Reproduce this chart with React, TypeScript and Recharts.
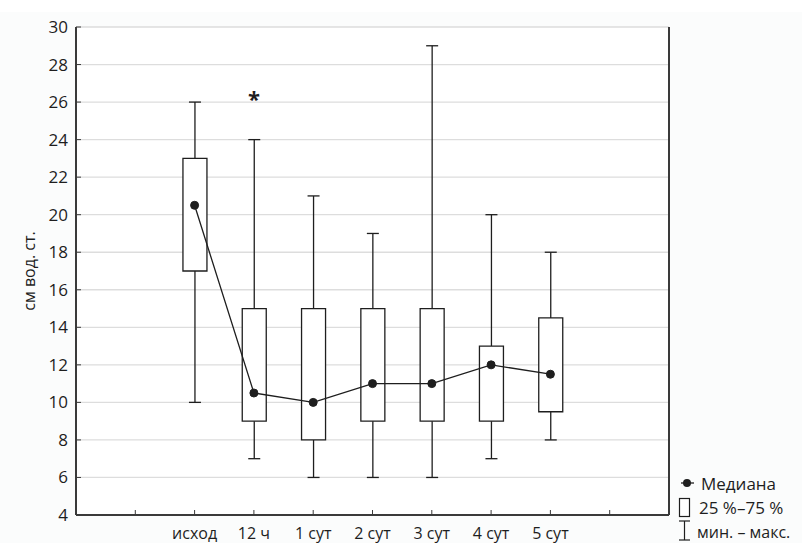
import React from 'react';
import {
  ComposedChart, Bar, Line, XAxis, YAxis, CartesianGrid
} from 'recharts';

// groups along the x axis (an empty slot is left at each end)
const categories = ['исход', '12 ч', '1 сут', '2 сут', '3 сут', '4 сут', '5 сут'];
const mins = [10, 7, 6, 6, 6, 7, 8];
const q1s = [17, 9, 8, 9, 9, 9, 9.5];
const medians = [20.5, 10.5, 10, 11, 11, 12, 11.5];
const q3s = [23, 15, 15, 15, 15, 13, 14.5];
const maxs = [26, 24, 21, 19, 29, 20, 18];
// significance mark (asterisk) above a group
const marks = [null, 26.4, null, null, null, null, null];
const yTicks = [4, 6, 8, 10, 12, 14, 16, 18, 20, 22, 24, 26, 28, 30];

const FONT = '"Open Sans", "Noto Sans", sans-serif';
const INK = '#1e1e1e';

const blank = { name: '', box: null, range: null, median: null, mark: null };
const rows = [
  { ...blank },
  ...categories.map((name, i) => ({
    name,
    box: [q1s[i], q3s[i]],
    range: [mins[i], maxs[i]],
    median: medians[i],
    mark: marks[i],
  })),
  { ...blank },
];

function Whisker(props: any) {
  const { x, y, width, height } = props;
  if (x == null || y == null || !isFinite(height)) return <g />;
  const cx = x + width / 2;
  const top = Math.min(y, y + height);
  const bot = Math.max(y, y + height);
  return (
    <g stroke={INK} strokeWidth={1.3}>
      <line x1={cx} x2={cx} y1={top} y2={bot} />
      <line x1={cx - 6} x2={cx + 6} y1={top} y2={top} />
      <line x1={cx - 6} x2={cx + 6} y1={bot} y2={bot} />
    </g>
  );
}

function Star(props: any) {
  const { cx, cy, value, index } = props;
  if (value == null || cy == null) return <g key={index} />;
  return (
    <text key={index} x={cx} y={cy + 12} textAnchor="middle" fontSize={22}
      fontWeight="bold" fontFamily={FONT} fill={INK}>*</text>
  );
}

function YLabel(props: any) {
  const vb = props.viewBox || { y: 27, height: 488 };
  const cy = vb.y + vb.height / 2;
  return (
    <text x={29} y={cy} transform={`rotate(-90, 29, ${cy})`} textAnchor="middle"
      dominantBaseline="central" fontSize={16} fontFamily={FONT} fill={INK}>
      см вод. ст.
    </text>
  );
}

function LegendBox() {
  const t = { fontSize: 17, fontFamily: FONT, fill: INK, dominantBaseline: 'central' } as any;
  return (
    <svg width={802} height={543} style={{ position: 'absolute', left: 0, top: 0, pointerEvents: 'none' }}>
      <line x1={681} x2={694} y1={483} y2={483} stroke={INK} strokeWidth={1.3} />
      <circle cx={687} cy={483} r={4} fill={INK} />
      <text x={701} y={483} {...t}>Медиана</text>

      <rect x={679.5} y={498.5} width={10} height={18} fill="#fff" stroke={INK} strokeWidth={1.2} />
      <text x={699} y={507} {...t}>25 %–75 %</text>

      <g stroke={INK} strokeWidth={1.2}>
        <line x1={684.5} x2={684.5} y1={521} y2={540} />
        <line x1={679} x2={690} y1={521} y2={521} />
        <line x1={679} x2={690} y1={540} y2={540} />
      </g>
      <text x={697} y={532} {...t} fontSize={16}>мин. – макс.</text>
    </svg>
  );
}

export default function App() {
  const pad = { left: 29.65, right: 29.65 };
  const axisLine = { stroke: '#3a3a3a', strokeWidth: 2 };
  const tickLine = { stroke: '#3a3a3a', strokeWidth: 1 };

  return (
    <div style={{
      position: 'absolute', left: 0, top: 0, width: 802, height: 543,
      background: 'linear-gradient(#ffffff 0px, #ffffff 12px, #fbfcfc 12px)',
    }}>
      <ComposedChart
        width={802}
        height={543}
        data={rows}
        margin={{ top: 27, right: 0, left: 0, bottom: 0 }}
        barGap={-24}
      >
        <CartesianGrid vertical={false} stroke="#dddddd" strokeWidth={1.3} fill="#ffffff" />
        <XAxis
          dataKey="name"
          height={28}
          padding={pad}
          interval={0}
          tickSize={-5}
          tickMargin={18}
          axisLine={axisLine}
          tickLine={tickLine}
          tick={{ fontSize: 16, fontFamily: FONT, fill: INK }}
        />
        <XAxis
          xAxisId="top"
          orientation="top"
          dataKey="name"
          height={0}
          padding={pad}
          interval={0}
          tickSize={-5}
          tick={false}
          axisLine={axisLine}
          tickLine={tickLine}
        />
        <YAxis
          type="number"
          domain={[4, 30]}
          ticks={yTicks}
          width={76}
          interval={0}
          tickSize={-5}
          tickMargin={13}
          axisLine={axisLine}
          tickLine={tickLine}
          tick={{ fontSize: 17, fontFamily: FONT, fill: INK }}
          label={{ content: <YLabel /> }}
        />
        <YAxis
          yAxisId="right"
          orientation="right"
          type="number"
          domain={[4, 30]}
          ticks={yTicks}
          width={133}
          interval={0}
          tickSize={-5}
          tick={false}
          axisLine={axisLine}
          tickLine={tickLine}
        />

        <Bar dataKey="range" barSize={24} shape={<Whisker />} isAnimationActive={false} />
        <Bar dataKey="box" barSize={24} fill="#ffffff" stroke={INK} strokeWidth={1.3} isAnimationActive={false} />
        <Line
          dataKey="median"
          stroke={INK}
          strokeWidth={1.3}
          dot={{ r: 4, fill: INK, stroke: INK, strokeWidth: 1 }}
          isAnimationActive={false}
        />
        <Line
          xAxisId="top"
          dataKey="mark"
          stroke="none"
          dot={<Star />}
          legendType="none"
          isAnimationActive={false}
        />
      </ComposedChart>
      <LegendBox />
    </div>
  );
}
